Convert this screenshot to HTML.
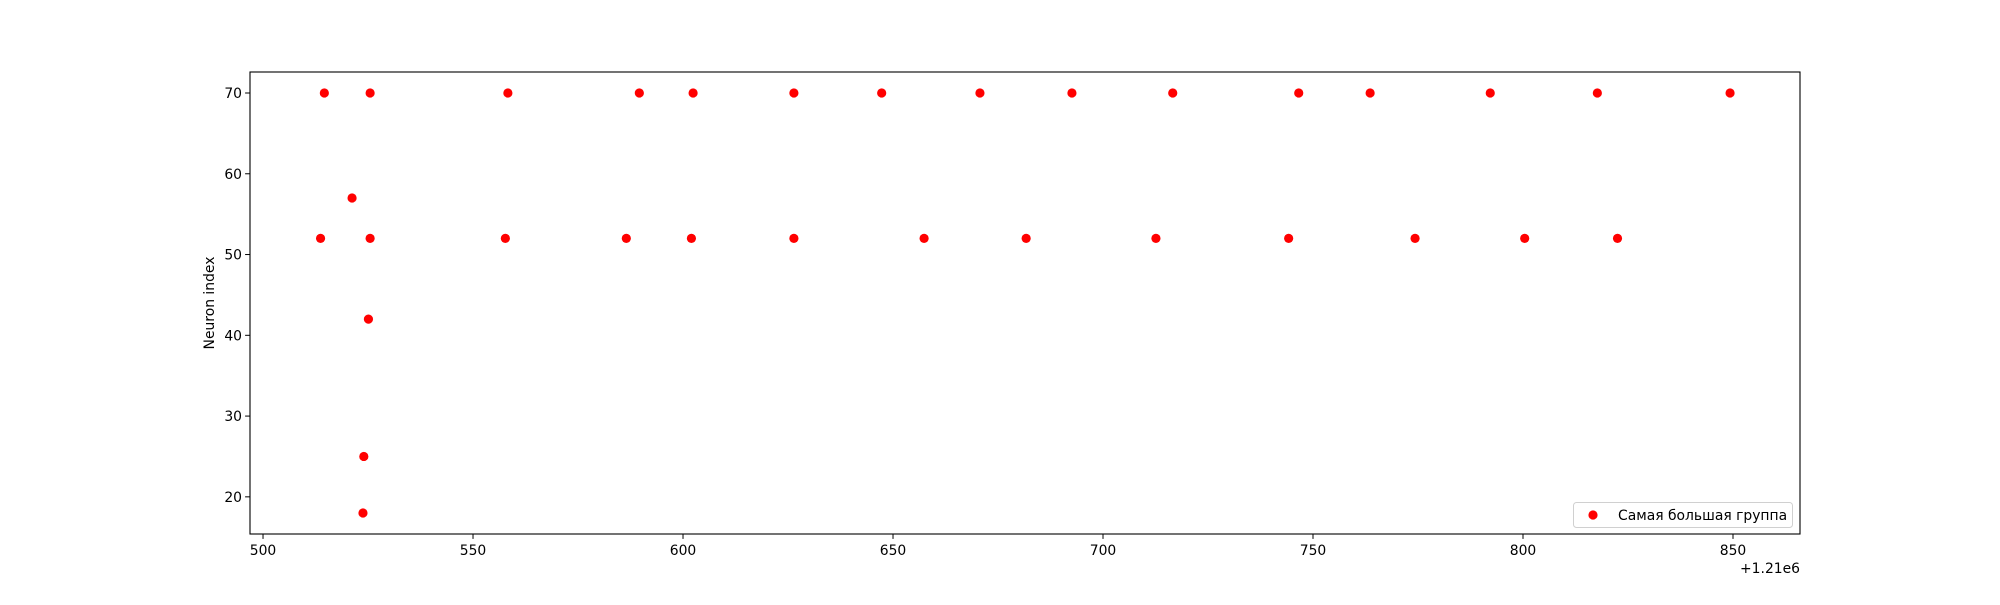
<!DOCTYPE html>
<html><head><meta charset="utf-8"><style>
body{margin:0;background:#fff;}
svg text{font-family:"DejaVu Sans","Liberation Sans",sans-serif;font-size:13.9px;fill:#000;}
</style></head><body>
<svg id="chart" width="2000" height="600" xmlns="http://www.w3.org/2000/svg">
<rect width="2000" height="600" fill="#fff"/>
<g id="marks"></g>
<g id="axes"></g>
</svg>
<script>
const xValues = [514.6,525.5,558.3,589.6,602.4,626.4,647.3,670.7,692.6,716.6,746.6,763.6,792.2,817.7,849.3,
  513.7,525.5,557.7,586.5,602.0,626.4,657.4,681.7,712.6,744.2,774.3,800.4,822.5,
  521.2,525.1,524.0,523.8];
const yValues = [70,70,70,70,70,70,70,70,70,70,70,70,70,70,70,
  52,52,52,52,52,52,52,52,52,52,52,52,52,
  57,42,25,18];
const xTicks = [500,550,600,650,700,750,800,850];
const yTicks = [20,30,40,50,60,70];
const seriesLabel = "Самая большая группа";

const L=250,R=1800,T=72,B=534;
const xMin=496.9,xMax=865.95,yMin=15.4,yMax=72.6;
const sx=v=>L+(v-xMin)/(xMax-xMin)*(R-L);
const sy=v=>B-(v-yMin)/(yMax-yMin)*(B-T);
const NS="http://www.w3.org/2000/svg";
function mk(tag,attrs,parent){const e=document.createElementNS(NS,tag);for(const k in attrs)e.setAttribute(k,attrs[k]);parent.appendChild(e);return e;}
const marks=document.getElementById('marks'),axes=document.getElementById('axes');
xValues.forEach((x,i)=>{
  const c=mk('circle',{cx:sx(x),cy:sy(yValues[i]),r:4.6,fill:'#ff0000'},marks);
  
  
});
const frame=mk('rect',{x:L,y:T,width:R-L,height:B-T,fill:'none',stroke:'#000','stroke-width':1.1},axes);


xTicks.forEach(t=>{
  const x=sx(t);
  mk('line',{x1:x,x2:x,y1:B,y2:B+4.9,stroke:'#000','stroke-width':1},axes);
  const tx=mk('text',{x:x,y:B+21,'text-anchor':'middle'},axes);tx.textContent=t;
  
  
});
yTicks.forEach(t=>{
  const y=sy(t);
  mk('line',{x1:L-4.9,x2:L,y1:y,y2:y,stroke:'#000','stroke-width':1},axes);
  const tx=mk('text',{x:L-8,y:y+5,'text-anchor':'end'},axes);tx.textContent=t;
  
  
});
const off=mk('text',{x:R,y:573,'text-anchor':'end'},axes);off.textContent='+1.21e6';


const yl=mk('text',{x:0,y:0,'text-anchor':'middle',transform:'translate(214,303) rotate(-90)'},axes);yl.textContent='Neuron index';


const lg=mk('g',{},axes);


mk('rect',{x:1573.5,y:502.5,width:219,height:25,rx:3,fill:'#fff','fill-opacity':0.8,stroke:'#d0d0d0'},lg);
mk('circle',{cx:1593,cy:515,r:4.6,fill:'#ff0000'},lg);
const lt=mk('text',{x:1618,y:520},lg);lt.textContent=seriesLabel;


</script>
</body></html>
